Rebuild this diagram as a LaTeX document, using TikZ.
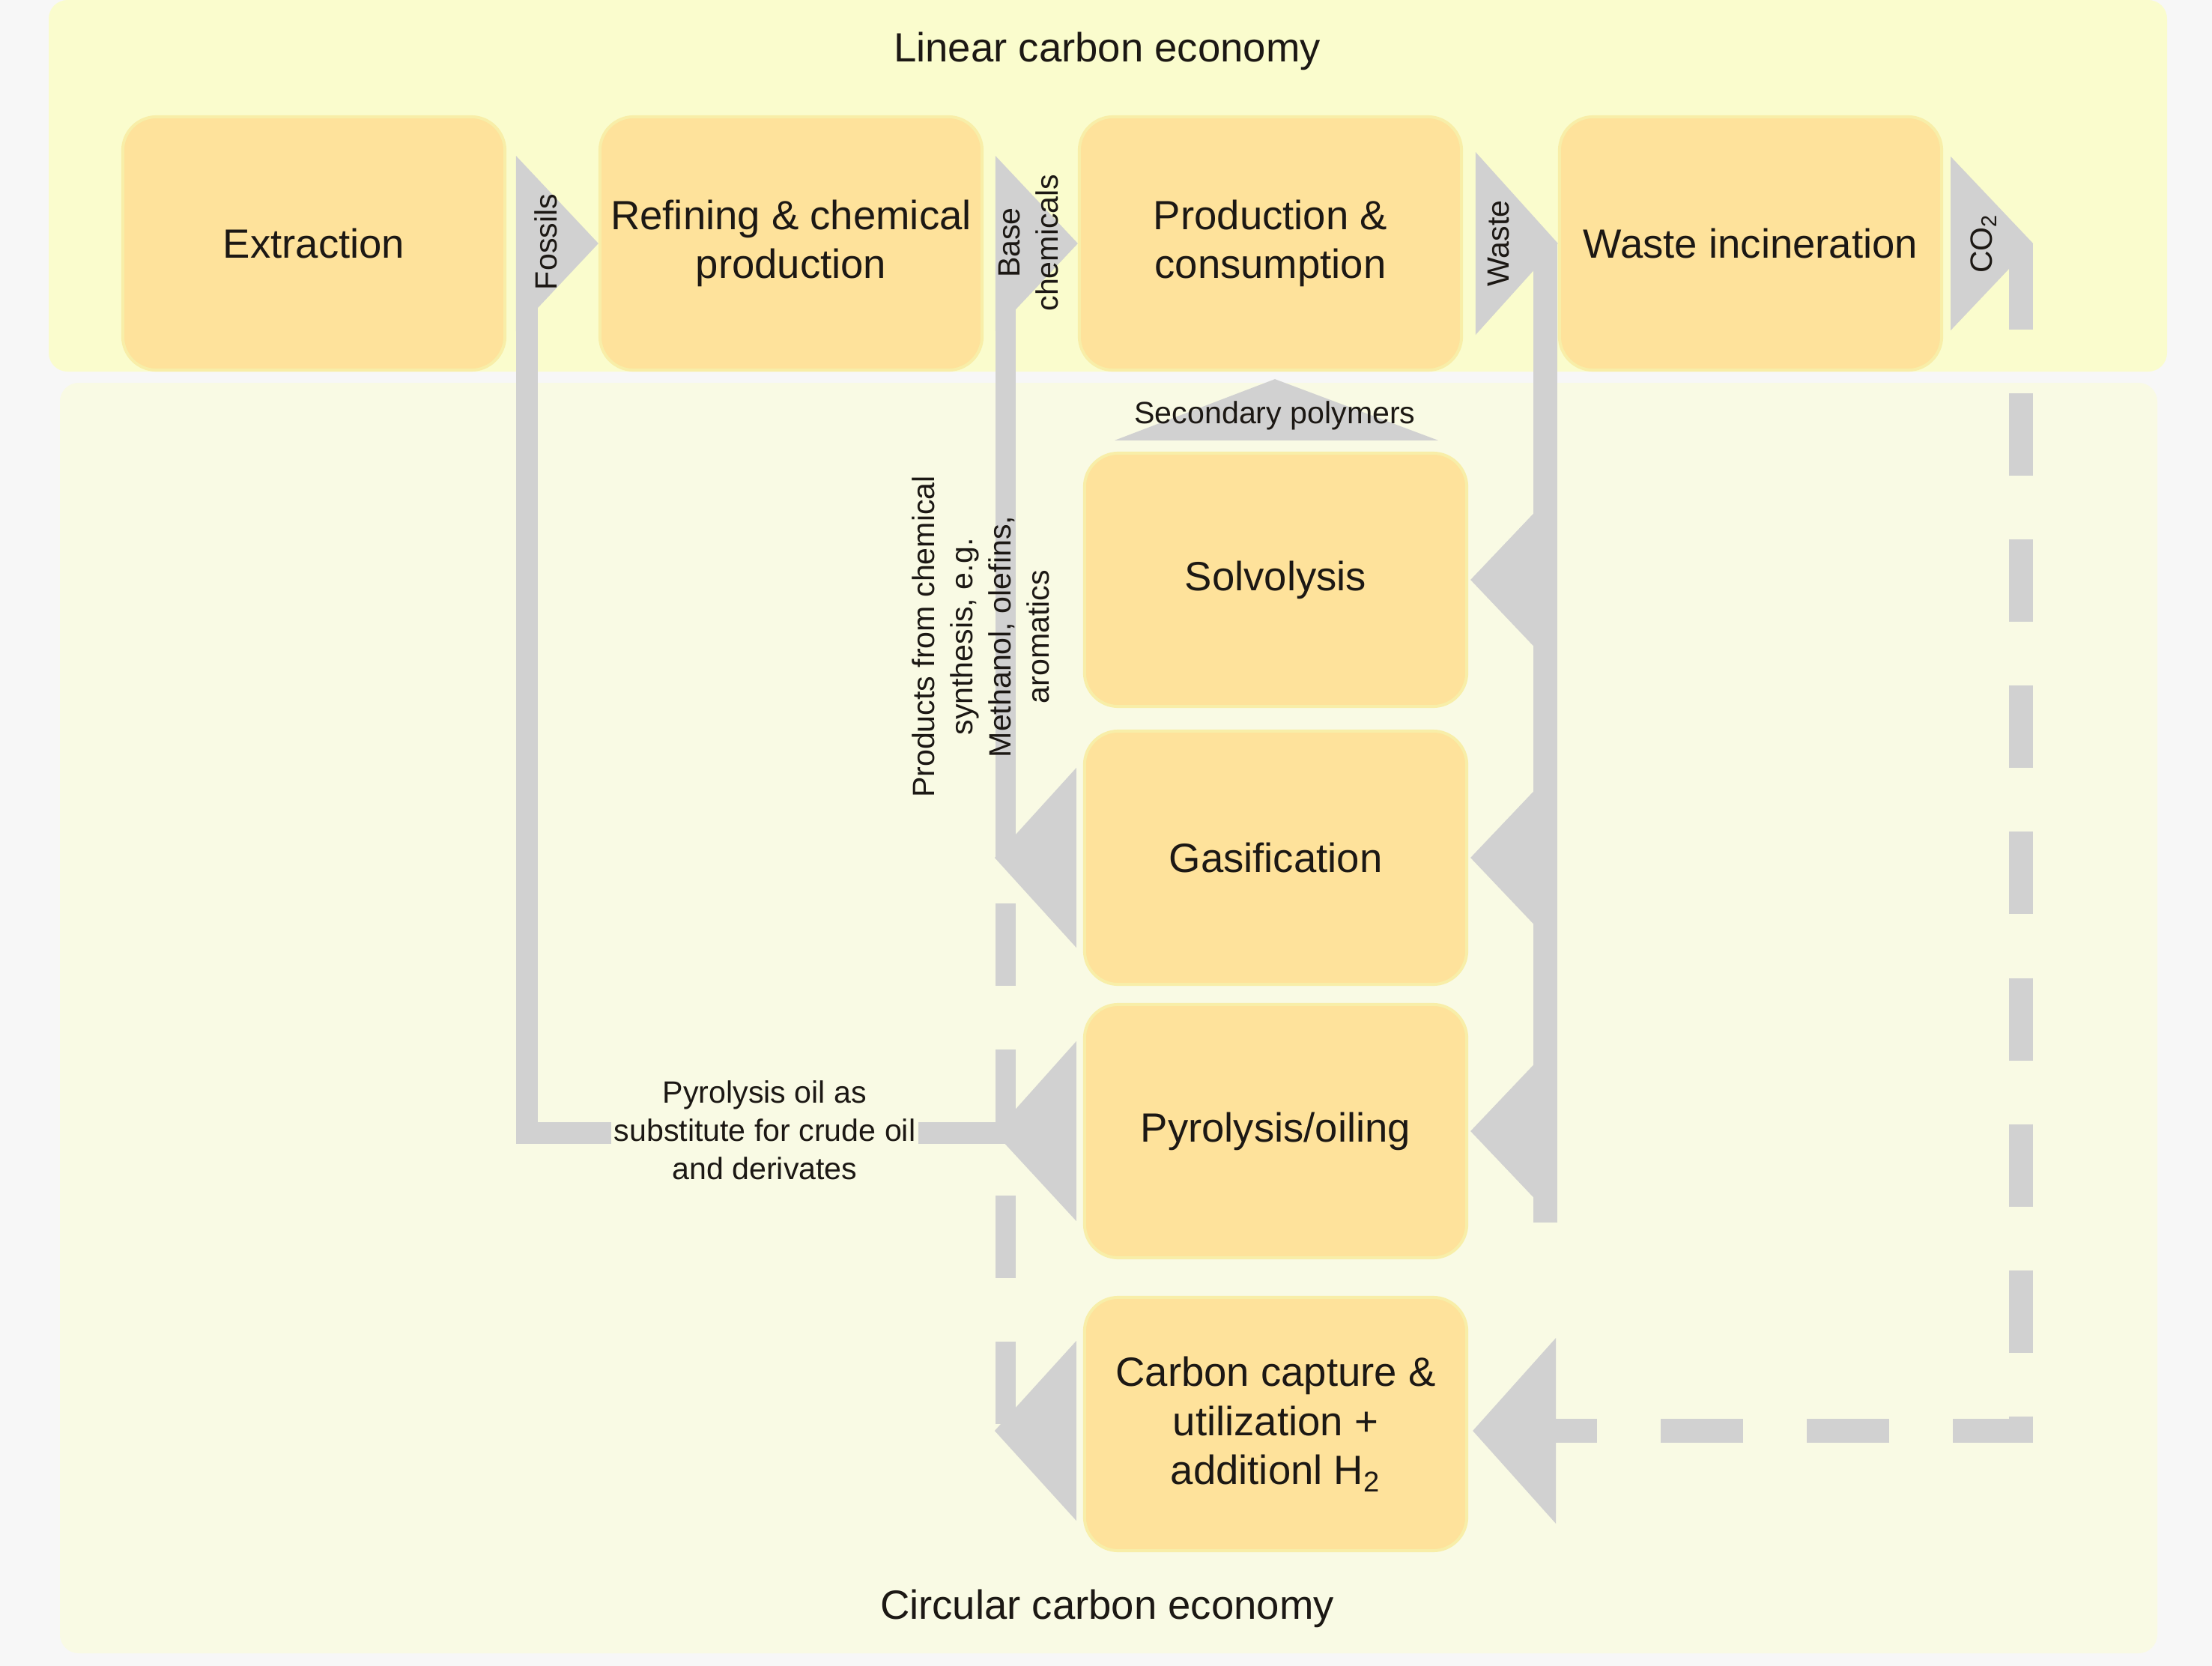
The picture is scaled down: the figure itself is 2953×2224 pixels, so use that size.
\documentclass[tikz,border=0pt]{standalone}
\usepackage{fontspec}
\setmainfont{Liberation Sans}
\usetikzlibrary{calc}

\definecolor{pagebg}{RGB}{247,247,247}
\definecolor{linbg}{RGB}{250,252,205}
\definecolor{circbg}{RGB}{249,250,228}
\definecolor{boxfill}{RGB}{254,226,155}
\definecolor{boxglow}{RGB}{248,238,168}
\definecolor{flowgray}{RGB}{209,209,209}
\definecolor{ink}{RGB}{28,24,20}

\newcommand{\bigtxt}{\fontsize{15.5}{18.7}\selectfont}
\newcommand{\smalltxt}{\fontsize{11.7}{14.5}\selectfont}

\begin{document}
\begin{tikzpicture}[x=0.01cm, y=-0.01cm,
	stage/.style={rectangle, rounded corners=0.45cm, fill=boxfill, draw=boxglow, line width=0.04cm,
		minimum width=5.1cm, minimum height=3.38cm, align=center, text=ink, font=\bigtxt},
	flow/.style={fill=flowgray},
	flowline/.style={draw=flowgray, line width=0.29cm},
	dashflow/.style={flowline, dash pattern=on 1.1cm off 0.85cm},
	lbl/.style={font=\smalltxt, text=ink, align=center},
	headline/.style={font=\bigtxt, text=ink}]
	\useasboundingbox (0,0) rectangle (2953,2224);
	% backgrounds
	\fill[pagebg] (0,0) rectangle (2953,2224);
	\fill[linbg, rounded corners=0.25cm] (65,0) rectangle (2893,496);
	\fill[circbg, rounded corners=0.25cm] (80,511) rectangle (2880,2207);
	% stages
	\node[stage] (ext) at (419,325) {Extraction};
	\node[stage] (ref) at (1056,325) {Refining \& chemical\\production};
	\node[stage] (prod) at (1696,325) {Production \&\\consumption};
	\node[stage] (waste) at (2337,325) {Waste incineration};
	\node[stage] (sol) at (1703,774) {Solvolysis};
	\node[stage] (gas) at (1703,1145) {Gasification};
	\node[stage] (pyr) at (1703,1510) {Pyrolysis/oiling};
	\node[stage] (cc) at (1703,1901) {Carbon capture \&\\utilization +\\additionl H\textsubscript{2}};
	% fossils
	\fill[flow] ($(ref.west)+(-110,-117)$) -- (ref.west) -- ($(ref.west)+(-110,117)$) -- cycle;
	\coordinate (fb) at ($(ref.west)+(-95,0)$);
	\draw[flowline] (fb) |- ($(pyr.west)+(-100,2)$);
	\fill[flow] ($(pyr.west)+(-9,-120)$) -- ($(pyr.west)+(-9,120)$) -- ($(pyr.west)+(-118,2)$) -- cycle;
	% base chemicals
	\fill[flow] ($(prod.west)+(-110,-117)$) -- (prod.west) -- ($(prod.west)+(-110,117)$) -- cycle;
	\coordinate (bc) at ($(prod.west)+(-96,0)$);
	\draw[flowline, line width=0.27cm] (bc) -- (bc |- gas.west);
	\fill[flow] ($(gas.west)+(-9,-120)$) -- ($(gas.west)+(-9,120)$) -- ($(gas.west)+(-118,0)$) -- cycle;
	\draw[dashflow, line width=0.27cm] (bc |- cc.west) -- (bc |- gas.west);
	\fill[flow] ($(cc.west)+(-9,-111)$) -- ($(cc.west)+(-9,129)$) -- ($(cc.west)+(-118,9)$) -- cycle;
	% waste
	\fill[flow] ($(waste.west)+(-110,-122)$) -- (waste.west) -- ($(waste.west)+(-110,122)$) -- cycle;
	\coordinate (wb) at ($(waste.west)+(-17,0)$);
	\coordinate (wend) at ($(wb |- pyr.east)+(0,122)$);
	\draw[flowline, line width=0.32cm] (wb) -- (wend);
	\foreach \b in {sol, gas, pyr}
		\fill[flow] ($(\b.east)+(3,0)$) -- ($(\b.east)+(117,-120)$) -- ($(\b.east)+(117,120)$) -- cycle;
	% CO2
	\coordinate (co) at ($(waste.east)+(120,0)$);
	\fill[flow] ($(co)+(-110,-116)$) -- (co) -- ($(co)+(-110,116)$) -- cycle;
	\coordinate (cb) at ($(co)+(-16,0)$);
	\draw[flowline, line width=0.32cm] (cb) -- ++(0,115) coordinate (cbd);
	\draw[dashflow, line width=0.32cm, dash phase=1.1cm] (cbd) |- ($(cc.east)+(110,9)$);
	\fill[flow] ($(cc.east)+(6,9)$) -- ($(cc.east)+(117,-115)$) -- ($(cc.east)+(117,133)$) -- cycle;
	% secondary polymers
	\fill[flow] ($(sol.north)+(-215,-15)$) -- ($(sol.north)+(217,-15)$) -- ($(prod.south)+(6,10)$) -- cycle;
	% labels
	\node[headline] (lin) at (1478,68) {Linear carbon economy};
	\node[headline] (circ) at (1478,2147) {Circular carbon economy};
	\node[lbl, rotate=90] (fos) at (729,323) {Fossils};
	\node[lbl, rotate=90] (bch) at (1373,324) {Base\\chemicals};
	\node[lbl, rotate=90] (wst) at (2001,325) {Waste};
	\node[lbl, rotate=90] (co2) at (2648,325) {CO\textsubscript{2}};
	\node[lbl] (secpol) at (1702,555) {Secondary polymers};
	\node[lbl, rotate=90] (prods) at (1309,850) {Products from chemical\\synthesis, e.g.\\Methanol, olefins,\\aromatics};
	\node[lbl, fill=circbg, inner sep=1pt] (pyroil) at (1021,1509) {Pyrolysis oil as\\substitute for crude oil\\and derivates};
\end{tikzpicture}
\end{document}
